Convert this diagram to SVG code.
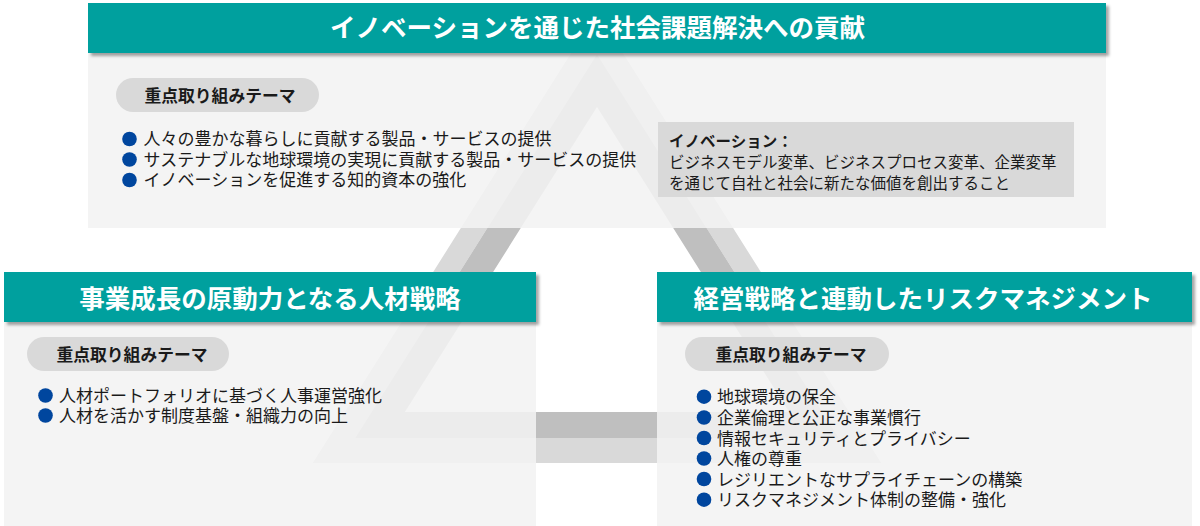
<svg xmlns="http://www.w3.org/2000/svg" width="1200" height="526" viewBox="0 0 1200 526">
  <defs>
    <filter id="shadow" x="-5%" y="-20%" width="110%" height="150%">
      <feDropShadow dx="3" dy="3" stdDeviation="1.6" flood-color="#000" flood-opacity="0.35"/>
    </filter>
    <style>
      .hdr { fill: #00a09e; filter: url(#shadow); }
      .body { fill: #f2f2f2; fill-opacity: 0.88; }
      .pill { fill: #d9d9d9; }
      .note { fill: #d9d9d9; }
      .title { font-family: "Noto Sans CJK JP", "Noto Sans", sans-serif; font-weight: 700; font-size: 25.5px; fill: #ffffff; text-anchor: middle; }
      .pilltxt { font-family: "Noto Sans CJK JP", "Noto Sans", sans-serif; font-weight: 700; font-size: 16.8px; fill: #1a1a1a; text-anchor: middle; }
      .item { font-family: "Noto Sans CJK JP", "Noto Sans", sans-serif; font-size: 17px; fill: #1a1a1a; }
      .notetx { font-family: "Noto Sans CJK JP", "Noto Sans", sans-serif; font-size: 15.5px; fill: #1a1a1a; }
      .b { font-weight: 700; }
      .dot { fill: #00469e; }
      .bandL { fill: #d9d9d9; fill-rule: evenodd; }
      .bandD { fill: #bfbfbf; fill-rule: evenodd; }
    </style>
  </defs>
  <rect x="0" y="0" width="1200" height="526" fill="#ffffff"/>

  <g id="connectors">
    <path class="bandL" d="M597,12 L881.2,463 L312.8,463 Z M597,54 L838.9,438 L355.1,438 Z"/>
    <path class="bandD" d="M597,54 L838.9,438 L355.1,438 Z M597,107.1 L789.1,412 L404.9,412 Z"/>
  </g>

  <g id="innovation">
    <rect class="body" x="88" y="53" width="1018" height="175"/>
    <rect class="hdr" x="88" y="3" width="1018" height="50"/>
    <text class="title" x="597.5" y="37">イノベーションを通じた社会課題解決への貢献</text>
    <rect class="pill" x="116" y="78" width="203" height="34" rx="17"/>
    <text class="pilltxt" x="220" y="102">重点取り組みテーマ</text>
    <circle class="dot" cx="129.5" cy="139" r="7.3"/>
    <circle class="dot" cx="129.5" cy="159.5" r="7.3"/>
    <circle class="dot" cx="129.5" cy="180" r="7.3"/>
    <text class="item"><tspan x="143.5" y="145">人々の豊かな暮らしに貢献する製品・サービスの提供</tspan><tspan x="143.5" y="165.5">サステナブルな地球環境の実現に貢献する製品・サービスの提供</tspan><tspan x="143.5" y="186">イノベーションを促進する知的資本の強化</tspan></text>
    <rect class="note" x="658" y="122" width="416" height="75"/>
    <text class="notetx"><tspan class="b" x="669" y="147">イノベーション：</tspan><tspan x="669" y="168">ビジネスモデル変革、ビジネスプロセス変革、企業変革</tspan><tspan x="669" y="189">を通じて自社と社会に新たな価値を創出すること</tspan></text>
  </g>

  <g id="hr-strategy">
    <rect class="body" x="4" y="322" width="532" height="204"/>
    <rect class="hdr" x="4" y="272" width="532" height="50"/>
    <text class="title" x="270" y="308">事業成長の原動力となる人材戦略</text>
    <rect class="pill" x="27" y="337" width="202" height="34" rx="17"/>
    <text class="pilltxt" x="132" y="361">重点取り組みテーマ</text>
    <circle class="dot" cx="45.5" cy="395.5" r="7.3"/>
    <circle class="dot" cx="45.5" cy="415.5" r="7.3"/>
    <text class="item"><tspan x="59" y="402">人材ポートフォリオに基づく人事運営強化</tspan><tspan x="59" y="422">人材を活かす制度基盤・組織力の向上</tspan></text>
  </g>

  <g id="risk-management">
    <rect class="body" x="657" y="322" width="535" height="204"/>
    <rect class="hdr" x="657" y="272" width="535" height="50"/>
    <text class="title" x="923" y="308">経営戦略と連動したリスクマネジメント</text>
    <rect class="pill" x="685" y="337" width="204" height="34" rx="17"/>
    <text class="pilltxt" x="791" y="361">重点取り組みテーマ</text>
    <circle class="dot" cx="704" cy="396.7" r="7.3"/>
    <circle class="dot" cx="704" cy="417.5" r="7.3"/>
    <circle class="dot" cx="704" cy="438" r="7.3"/>
    <circle class="dot" cx="704" cy="458.5" r="7.3"/>
    <circle class="dot" cx="704" cy="479" r="7.3"/>
    <circle class="dot" cx="704" cy="499.7" r="7.3"/>
    <text class="item"><tspan x="717" y="403">地球環境の保全</tspan><tspan x="717" y="424">企業倫理と公正な事業慣行</tspan><tspan x="717" y="444.5">情報セキュリティとプライバシー</tspan><tspan x="717" y="465">人権の尊重</tspan><tspan x="717" y="485.5">レジリエントなサプライチェーンの構築</tspan><tspan x="717" y="506">リスクマネジメント体制の整備・強化</tspan></text>
  </g>
</svg>
